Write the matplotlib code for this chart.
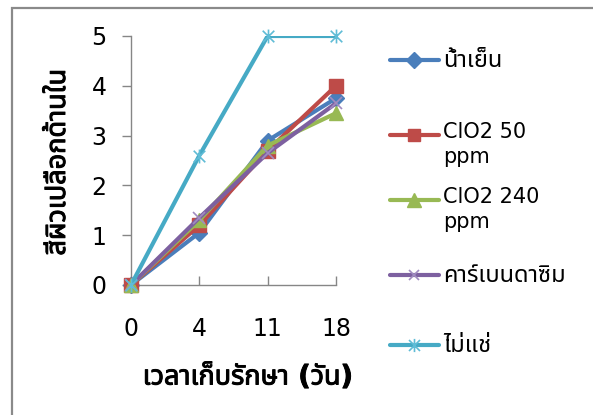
import matplotlib
matplotlib.use("Agg")
import matplotlib.pyplot as plt
from matplotlib import font_manager as fm
from matplotlib import patheffects as pe
from matplotlib.path import Path
from matplotlib.lines import Line2D
from matplotlib.patches import Rectangle

# ---------------- data ----------------
days = ["0", "4", "11", "18"]
series_names = ["น้ำเย็น", "ClO2 50\nppm", "ClO2 240\nppm", "คาร์เบนดาซิม", "ไม่แช่"]
cold_water = [0, 1.05, 2.9, 3.75]
clo2_50 = [0, 1.2, 2.7, 4.0]
clo2_240 = [0, 1.3, 2.8, 3.45]
carbendazim = [0, 1.35, 2.65, 3.65]
no_dip = [0, 2.6, 5.0, 5.0]
y_ticks = [0, 1, 2, 3, 4, 5]
x_label = "เวลาเก็บรักษา (วัน)"
y_label = "สีผิวเปลือกด้านใน"


# ---------------- font with Thai glyphs ----------------
def find_thai_font():
    try:
        from fontTools.ttLib import TTFont
    except Exception:
        return None
    prefs = ["Tahoma", "Noto Sans Thai", "Noto Sans Thai UI", "Loma", "Garuda",
             "Sarabun", "Waree", "Umpush", "Norasi", "Kinnari", "FreeSans",
             "Arial Unicode MS", "Noto Serif Thai", "TlwgTypo"]
    found = []
    for f in fm.fontManager.ttflist:
        if f.name in found:
            continue
        try:
            kw = {}
            if f.fname.lower().endswith((".ttc", ".otc")):
                kw["fontNumber"] = 0
            tt = TTFont(f.fname, lazy=True, **kw)
            cmap = tt.getBestCmap()
            if cmap and 0x0E01 in cmap and 0x0E49 in cmap:
                found.append(f.name)
        except Exception:
            pass
    for p in prefs:
        if p in found:
            return p
    return found[0] if found else None


thai = find_thai_font()
families = ["DejaVu Sans"] + ([thai] if thai else [])
plt.rcParams["font.family"] = families

W, H = 593, 415
fig = plt.figure(figsize=(W / 100, H / 100), dpi=100)


def fx(px):
    return px / W


def fy(py):
    return 1 - py / H


# outer chart border (top and left visible)
fig.patches.append(Rectangle((fx(12), fy(440)), 1.2, fy(8) - fy(440),
                             transform=fig.transFigure, fill=False,
                             edgecolor="#8a8a8a", lw=1.6, zorder=0))

ax = fig.add_axes([fx(131), fy(285), fx(336) - fx(131), fy(36) - fy(285)])
x = list(range(len(days)))

star = Path([(-1, -1), (1, 1), (-1, 1), (1, -1), (0, -1.2), (0, 1.2)],
            [Path.MOVETO, Path.LINETO, Path.MOVETO, Path.LINETO, Path.MOVETO, Path.LINETO])

styles = [
    dict(color="#4A7EBB", marker="D", ms=8.5, mfc="#4A7EBB", mec="#4A7EBB", mew=1),
    dict(color="#BE4B48", marker="s", ms=9.5, mfc="#BE4B48", mec="#BE4B48", mew=1),
    dict(color="#98B954", marker="^", ms=10, mfc="#98B954", mec="#98B954", mew=1),
    dict(color="#7D60A0", marker="x", ms=8, mfc="none", mec="#A08CC0", mew=1.2),
    dict(color="#46AAC5", marker=star, ms=10, mfc="none", mec="#5FBCD6", mew=1.2),
]
values = [cold_water, clo2_50, clo2_240, carbendazim, no_dip]

for i, (vals, st) in enumerate(zip(values, styles)):
    ax.plot(x, vals, color=st["color"], lw=3.0, solid_joinstyle="round",
            solid_capstyle="round", zorder=3 + i)
    ax.plot(x, vals, ls="none", marker=st["marker"], ms=st["ms"], mfc=st["mfc"],
            mec=st["mec"], mew=st["mew"], clip_on=False, zorder=3 + i)

ax.set_xlim(0, len(days) - 1)
ax.set_ylim(0, 5)
ax.set_xticks(x)
ax.set_xticklabels(days)
ax.set_yticks(y_ticks)
for s in ["top", "right"]:
    ax.spines[s].set_visible(False)
for s in ["left", "bottom"]:
    ax.spines[s].set_color("#868686")
    ax.spines[s].set_linewidth(1.0)
ax.tick_params(axis="y", direction="out", length=6.5, width=1.0, color="#868686",
               labelsize=17, pad=11)
ax.tick_params(axis="x", direction="in", length=6.5, width=1.0, color="#868686",
               labelsize=17, pad=23)
ax.patch.set_alpha(0)

bold_fx = [pe.withStroke(linewidth=0.7, foreground="black")]
fig.text(fx(248), fy(377), x_label, ha="center", va="center", fontsize=19.5,
         fontweight="bold", path_effects=bold_fx)
fig.text(fx(58), fy(162), y_label, ha="center", va="center", fontsize=19.5,
         fontweight="bold", rotation=90, path_effects=bold_fx)

# legend (drawn entry by entry, Excel style)
leg_y = [60, 135, 200, 275, 345]
for name, st, py in zip(series_names, styles, leg_y):
    fig.add_artist(Line2D([fx(390), fx(439)], [fy(py), fy(py)],
                          transform=fig.transFigure, color=st["color"], lw=3.0,
                          solid_capstyle="round"))
    fig.add_artist(Line2D([fx(414.5)], [fy(py)], transform=fig.transFigure,
                          ls="none", marker=st["marker"], ms=st["ms"] * 0.95,
                          mfc=st["mfc"], mec=st["mec"], mew=st["mew"]))
    is_latin = name.isascii()
    fig.text(fx(443), fy(py - 12 if not is_latin else py - 13), name,
             ha="left", va="top", fontsize=15 if is_latin else 17,
             linespacing=1.3)

fig.savefig("out.png", dpi=100)
